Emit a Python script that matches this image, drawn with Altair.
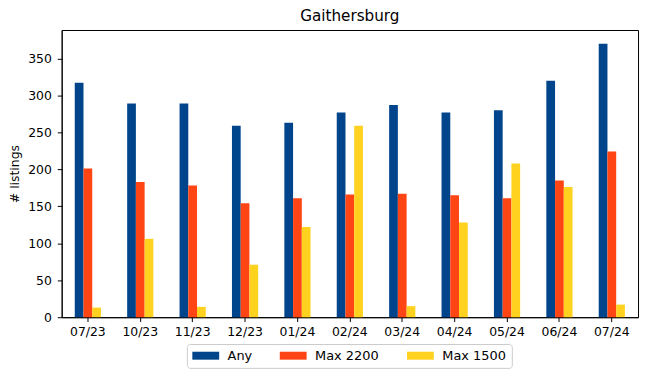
import altair as alt
import pandas as pd

months = ["07/23", "10/23", "11/23", "12/23", "01/24", "02/24",
          "03/24", "04/24", "05/24", "06/24", "07/24"]
any_vals = [317, 289, 289, 259, 263, 277, 287, 277, 280, 320, 370]
max2200_vals = [201, 183, 178, 154, 161, 166, 167, 165, 161, 185, 224]
max1500_vals = [13, 106, 14, 71, 122, 259, 15, 128, 208, 176, 17]
series = ["Any", "Max 2200", "Max 1500"]
colors = ["#00458B", "#FF4514", "#FFD21F"]

rows = []
for s, vals in zip(series, [any_vals, max2200_vals, max1500_vals]):
    for m, v in zip(months, vals):
        rows.append({"month": m, "series": s, "listings": v})
df = pd.DataFrame(rows)

FONT = "DejaVu Sans"
FS = 12.5
legend_path = "M-1,-0.667L3.5,-0.667L3.5,0.667L-1,0.667Z"

chart = alt.Chart(df).mark_bar().encode(
    x=alt.X("month:N", sort=months,
            scale=alt.Scale(paddingInner=0.5, paddingOuter=0.25),
            axis=alt.Axis(title=None, labelAngle=0, labelFont=FONT, labelFontSize=FS,
                          labelColor="black", tickColor="black", tickSize=4.4,
                          labelPadding=4, domainColor="black", grid=False)),
    xOffset=alt.XOffset("series:N", sort=series,
                        scale=alt.Scale(paddingInner=0, paddingOuter=0)),
    y=alt.Y("listings:Q", scale=alt.Scale(domain=[0, 388.5], nice=False),
            axis=alt.Axis(title="# listings", values=list(range(0, 351, 50)), grid=False,
                          labelFont=FONT, labelFontSize=FS, labelColor="black",
                          tickColor="black", tickSize=4.4, labelPadding=6,
                          domainColor="black", titleFont=FONT, titleFontSize=FS,
                          titleFontWeight="normal", titleColor="black", titlePadding=6)),
    color=alt.Color("series:N", sort=series,
                    scale=alt.Scale(domain=series, range=colors),
                    legend=alt.Legend(title=None, orient="none", legendX=126, legendY=316,
                                      direction="horizontal", columns=3,
                                      symbolType=legend_path, symbolSize=144,
                                      symbolStrokeWidth=0, labelFont=FONT,
                                      labelFontSize=13, labelColor="black",
                                      labelOffset=23, columnPadding=27, padding=5,
                                      strokeColor="#cccccc", cornerRadius=3,
                                      fillColor="white")),
).properties(
    width=580, height=289,
    title=alt.TitleParams("Gaithersburg", font=FONT, fontSize=15.3, fontWeight="normal",
                          color="black", anchor="middle", offset=6),
    autosize=alt.AutoSizeParams(type="none"),
    padding={"left": 54, "top": 21, "right": 4, "bottom": 52},
).configure_view(stroke="black", strokeWidth=1)

chart.save("out.html", embed_options={"renderer": "svg", "actions": False})
